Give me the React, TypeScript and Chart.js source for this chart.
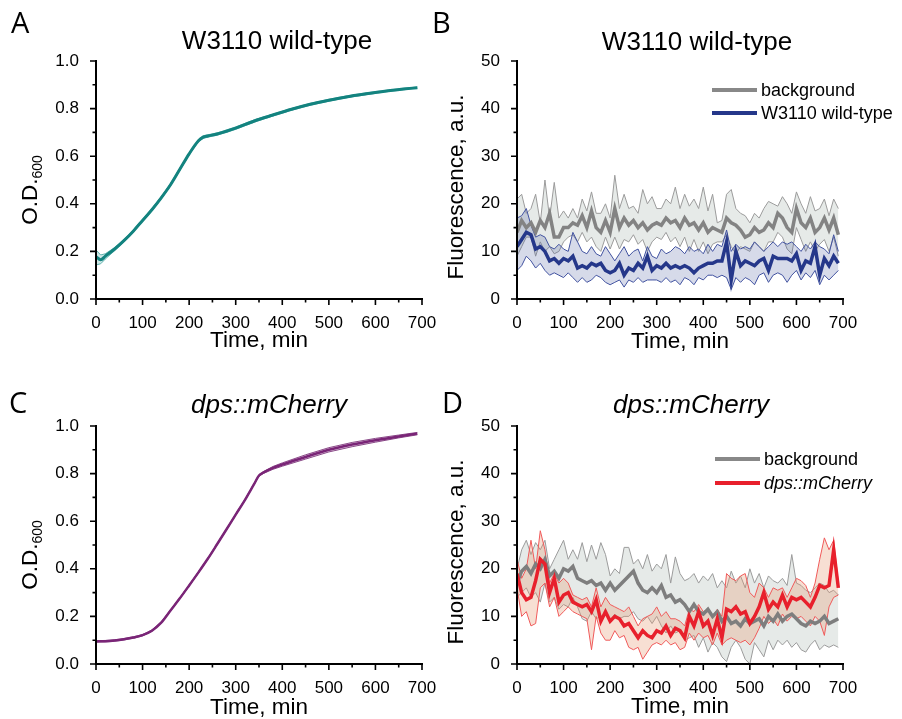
import React, { useEffect, useRef } from "react";
import { Chart, registerables } from "chart.js";

Chart.register(...registerables);

const W = 902;
const H = 719;
const SANS = '"Liberation Sans", Arial, Helvetica, sans-serif';
const LETTER_FONT = '"Open Sans", "Noto Sans", sans-serif';

// ---------- data ----------
const xTicks = [0, 100, 200, 300, 400, 500, 600, 700];
const odTicks = [0, 0.2, 0.4, 0.6, 0.8, 1.0];
const flTicks = [0, 10, 20, 30, 40, 50];

// Panel A (W3110 OD600)
const timesA = [0, 10, 20, 40, 60, 80, 100, 120, 140, 160, 180, 200, 220, 230, 240, 260, 280, 300, 340, 380, 420, 460, 500, 540, 580, 620, 660, 690];
const odA = [0.178, 0.165, 0.18, 0.21, 0.245, 0.285, 0.33, 0.375, 0.425, 0.48, 0.545, 0.61, 0.665, 0.68, 0.685, 0.693, 0.705, 0.718, 0.748, 0.773, 0.797, 0.818, 0.835, 0.85, 0.862, 0.873, 0.882, 0.888];
const odAHi = [0.206, 0.185, 0.19, 0.216, 0.25, 0.29, 0.335, 0.38, 0.43, 0.485, 0.55, 0.614, 0.669, 0.686, 0.69, 0.698, 0.71, 0.723, 0.753, 0.777, 0.801, 0.822, 0.839, 0.854, 0.866, 0.876, 0.885, 0.891];
const odALo = [0.143, 0.148, 0.168, 0.203, 0.24, 0.28, 0.325, 0.37, 0.42, 0.475, 0.54, 0.606, 0.661, 0.674, 0.68, 0.688, 0.7, 0.713, 0.743, 0.769, 0.793, 0.814, 0.831, 0.846, 0.858, 0.87, 0.879, 0.885];

// Panel C (dps::mCherry OD600)
const timesC = [0, 20, 40, 60, 80, 100, 120, 140, 160, 180, 200, 220, 240, 260, 280, 300, 320, 340, 350, 360, 380, 400, 450, 500, 550, 600, 650, 690];
const odC = [0.095, 0.096, 0.099, 0.104, 0.111, 0.121, 0.14, 0.174, 0.225, 0.276, 0.33, 0.385, 0.442, 0.503, 0.565, 0.628, 0.69, 0.758, 0.792, 0.805, 0.824, 0.838, 0.87, 0.9, 0.922, 0.94, 0.956, 0.968];
const odCHi = [0.098, 0.099, 0.102, 0.107, 0.114, 0.124, 0.143, 0.177, 0.228, 0.279, 0.333, 0.388, 0.445, 0.506, 0.568, 0.631, 0.693, 0.761, 0.795, 0.809, 0.83, 0.845, 0.879, 0.909, 0.931, 0.948, 0.962, 0.973];
const odCLo = [0.092, 0.093, 0.096, 0.101, 0.108, 0.118, 0.137, 0.171, 0.222, 0.273, 0.327, 0.382, 0.439, 0.5, 0.562, 0.625, 0.687, 0.755, 0.789, 0.801, 0.818, 0.831, 0.861, 0.891, 0.913, 0.932, 0.95, 0.963];

// Fluorescence time points (min)
const timesF = [
  0, 10, 20, 30, 40, 50, 60, 70, 80, 90,
  100, 110, 120, 130, 140, 150, 160, 170, 180, 190,
  200, 210, 220, 230, 240, 250, 260, 270, 280, 290,
  300, 310, 320, 330, 340, 350, 360, 370, 380, 390,
  400, 410, 420, 430, 440, 450, 460, 470, 480, 490,
  500, 510, 520, 530, 540, 550, 560, 570, 580, 590,
  600, 610, 620, 630, 640, 650, 660, 670, 680, 690,
];

// Panel B background
const bgB = [
  14, 16.5, 15, 16, 14, 16.5, 15, 18, 13, 13,
  15, 15, 16, 15.5, 17.5, 15, 18.5, 15, 14, 16.5,
  14, 19, 15, 17, 15.5, 16.5, 15, 16, 14.5, 15.5,
  16, 15.5, 17, 16, 16.5, 15, 17, 15.5, 16, 14.5,
  16, 14, 15, 14.5, 14, 17, 16, 15.5, 14.5, 13,
  13.5, 15, 14, 14.5, 16, 15, 18, 17, 15, 14,
  19, 16, 15, 17, 14, 15, 17, 14.5, 17, 13.5,
];
const bgBHi = [
  21, 22, 18, 19, 22, 16, 25, 17, 24.5, 17,
  18.5, 17, 19, 17, 21, 18.5, 22.5, 18, 18, 20,
  17, 26, 19, 22, 19, 19.5, 18, 23, 20, 21.5,
  19, 19, 21, 20, 23.5, 19, 22, 19.5, 21, 19,
  23.5, 18.5, 22, 16, 16.5, 22, 23, 19, 18, 17.5,
  16, 18, 17, 19, 20.5, 20, 19.5, 21.5, 20, 18,
  22.5, 20, 18, 21.5, 18.5, 19, 21, 17.5, 21, 19,
];
const bgBLo = [
  9, 11, 13, 13, 9, 12, 10, 11, 9.5, 10,
  12, 13, 13.5, 12, 14, 12, 13, 11, 10, 13,
  10.5, 13, 10.5, 12.5, 12, 13.5, 11.5, 12.5, 10, 12,
  13, 12.5, 14, 12, 13, 11, 13, 10, 12.5, 10,
  12, 9.5, 11.5, 12, 12, 13.5, 11, 9.5, 11, 10.5,
  10, 12, 11, 10, 12, 12, 14, 13, 10.5, 9.5,
  15, 12.5, 10, 12, 10, 11.5, 12.5, 10, 13, 9,
];
// Panel B W3110 wild-type
const wtB = [
  11, 12.5, 14, 13.5, 10.5, 11, 10, 8, 8.5, 7.5,
  8.5, 8, 9, 6.5, 7, 6.5, 7.5, 7, 7.5, 6,
  5.5, 6, 7.5, 5, 6.5, 6, 7.5, 6.5, 9, 6,
  7, 6.5, 7.5, 6.5, 7, 6.5, 7, 6.5, 5.5, 6.5,
  7, 7.5, 7.5, 8, 8, 12, 4, 10, 7, 8,
  7.5, 7, 8, 8.5, 6, 9, 8.5, 8.5, 8.5, 8,
  9.5, 6, 8, 7.5, 11, 5, 8.5, 7, 9, 7.5,
];
const wtBHi = [
  17, 17.5, 19, 15.5, 13, 13.5, 13, 11, 10.5, 11.5,
  10.5, 10, 14, 12, 10, 9.5, 11, 9.5, 9, 11,
  9.5, 8, 9.5, 11, 9, 10, 10.5, 8, 11, 9,
  8.5, 10.5, 9.5, 10, 11, 10.5, 9.5, 11, 10, 10.5,
  9.5, 11.5, 10, 11.5, 11, 14.5, 10, 11.5, 10.5, 11,
  10.5, 12, 11, 10, 11, 12, 11, 12, 11.5, 12,
  11, 10, 11.5, 10.5, 12, 11, 10.5, 9.5, 13.5, 10,
];
const wtBLo = [
  6, 7, 9, 8, 6.5, 7.5, 6, 5, 5.5, 5,
  4.5, 5.5, 4.5, 3.5, 4.5, 3.5, 4, 5, 4.5, 3.5,
  3, 3.5, 4, 2.5, 4, 3.5, 4.5, 3.5, 4, 4,
  4, 3.5, 4.5, 3.5, 4, 3, 4.5, 4, 3, 4.5,
  4, 5, 5, 4.5, 5, 4.5, 2, 4.5, 3.5, 4.5,
  4, 3, 5, 5.5, 3.5, 5, 5.5, 5, 3.5, 5,
  6, 4, 5.5, 4.5, 6, 3, 5, 4, 5, 6,
];

// Panel D background
const bgD = [
  17, 19.5, 20.5, 19, 21, 20, 22, 18.5, 19.5, 18,
  20, 19.5, 20.5, 18, 17.5, 17, 17.5, 16.5, 17, 15.5,
  17, 15.5, 16.5, 17.5, 18.5, 19.5, 17, 15.5, 15, 16,
  15, 16.5, 14, 14.5, 13, 13.5, 12.5, 11, 12.5, 11,
  10.5, 11.5, 10, 11, 9, 10, 8.5, 9, 8, 9.5,
  8.5, 9, 9.5, 8, 10, 9, 10.5, 9, 10, 10.5,
  9.5, 8.5, 8, 9, 8.5, 9, 10, 8.5, 9, 9.5,
];
const bgDHi = [
  20, 24, 26, 23, 25.5, 24, 26, 20, 22, 24,
  26, 22, 24, 22, 25.5, 21.5, 25, 22, 25.5, 23,
  18.5, 20, 19, 24.5, 24.5, 21, 22, 20, 23, 19.5,
  21, 20, 23, 17, 22.5, 19, 17.5, 18, 19, 17,
  18.5, 17.5, 19, 16, 17.5, 16, 19.5, 17, 18.5, 16,
  20, 17, 19, 16, 18.5, 17.5, 17, 18, 16.5, 23,
  17, 16.5, 15.5, 15, 16, 17, 16.5, 15, 15.5, 14.5,
];
const bgDLo = [
  14, 15, 16, 14, 15, 13, 17, 13, 14, 11.5,
  12.5, 12, 14, 12, 9.5, 9, 11, 9.5, 10, 10.5,
  9, 10.5, 9.5, 10, 10, 11, 9.5, 9, 10, 8.5,
  10, 8, 6.5, 8, 6.5, 7, 5, 5.5, 6, 3.5,
  5.5, 2.5, 4.5, 3.5, 1.5, 0.5, 3.5, 5, 3.5, 1,
  0, 4.5, 3, 1.5, 5, 3, 5, 4, 5, 3.5,
  4.5, 3, 2.5, 4, 5, 3, 4, 3.5, 4, 3.5,
];
// Panel D dps::mCherry
const mcD = [
  19, 15, 13.5, 14, 17.5, 22, 21, 15, 18, 13,
  14.5, 15, 13, 12.5, 12, 12.5, 11, 13.5, 9, 11,
  9, 10, 9.5, 8, 8.5, 7, 5.5, 7, 6, 5.5,
  7, 6.5, 8, 6, 7.5, 7, 5.5, 10, 8, 11,
  8, 9, 6, 9.5, 5.5, 11.5, 11, 12, 10.5, 11,
  8.5, 10, 12, 15, 11.5, 13, 12, 14.5, 12, 14,
  13.5, 14, 13, 12, 14, 16.5, 16, 16.5, 24, 16,
];
const mcDHi = [
  22, 18, 20, 26, 20, 28, 24, 17, 19, 17,
  18, 17, 14.5, 14, 13.5, 14, 12, 16, 12, 14,
  12.5, 12, 11.5, 11, 12, 10, 8, 9.5, 10, 10.5,
  12, 10, 11, 9.5, 9.5, 9, 8, 11.5, 11, 12.5,
  11, 11.5, 10, 11.5, 10, 19, 18, 17.5, 18.5, 19,
  15, 14, 17, 16, 14, 16, 15.5, 16, 14, 16,
  18, 17.5, 16.5, 14, 17, 22, 26.5, 24, 26, 17,
];
const mcDLo = [
  16, 10, 11, 8, 8.5, 16, 17, 12, 14, 10,
  11, 12, 11, 10.5, 10, 9.5, 3, 10, 6.5, 5,
  5, 7, 5.5, 6, 3.5, 3, 3.5, 1, 2.5, 4,
  4.5, 4, 5, 4, 4.5, 3, 3.5, 6.5, 5, 6.5,
  5.5, 6, 4, 6.5, 4, 5, 5.5, 5, 4.5, 5,
  4, 5.5, 7.5, 10, 8.5, 9.5, 8, 10.5, 9, 10,
  9.5, 10, 9, 8, 10, 9, 6, 12, 14, 14.5,
];

// ---------- helpers ----------
const pts = (xs: number[], ys: number[]) => xs.map((x, i) => ({ x, y: ys[i] }));

const bandPair = (xs: number[], hi: number[], lo: number[], edge: string, fill: string, order: number, edgeW = 1) => [
  { data: pts(xs, hi), borderColor: edge, borderWidth: edgeW, backgroundColor: fill, fill: "+1", pointRadius: 0, tension: 0, order },
  { data: pts(xs, lo), borderColor: edge, borderWidth: edgeW, backgroundColor: fill, fill: false, pointRadius: 0, tension: 0, order: order - 0.5 },
];

const meanLine = (xs: number[], ys: number[], color: string, width: number, order: number, smooth = false) => ({
  data: pts(xs, ys),
  borderColor: color,
  borderWidth: width,
  fill: false,
  pointRadius: 0,
  tension: 0,
  cubicInterpolationMode: smooth ? "monotone" : "default",
  order,
});

const decorPlugin = {
  id: "decor",
  afterDraw(chart: any, _a: any, o: any) {
    const ctx = chart.ctx as CanvasRenderingContext2D;
    const { left, right, top, bottom } = chart.chartArea;
    const xs = chart.scales.x;
    const ys = chart.scales.y;
    ctx.save();
    // axes
    ctx.strokeStyle = "#000";
    ctx.lineWidth = 2;
    ctx.beginPath();
    ctx.moveTo(left, top - 1);
    ctx.lineTo(left, bottom + 1);
    ctx.moveTo(left - 1, bottom);
    ctx.lineTo(right + 1, bottom);
    ctx.stroke();
    ctx.lineWidth = 1.6;
    ctx.beginPath();
    for (let i = 0; i < xTicks.length; i++) {
      const v = xTicks[i];
      const p = xs.getPixelForValue(v);
      ctx.moveTo(p, bottom);
      ctx.lineTo(p, bottom + 6);
      if (i < xTicks.length - 1) {
        const m = xs.getPixelForValue((v + xTicks[i + 1]) / 2);
        ctx.moveTo(m, bottom);
        ctx.lineTo(m, bottom + 3.5);
      }
    }
    const yt: number[] = o.yTicks;
    for (let i = 0; i < yt.length; i++) {
      const v = yt[i];
      const p = ys.getPixelForValue(v);
      ctx.moveTo(left, p);
      ctx.lineTo(left - 6, p);
      if (i < yt.length - 1) {
        const m = ys.getPixelForValue((v + yt[i + 1]) / 2);
        ctx.moveTo(left, m);
        ctx.lineTo(left - 3.5, m);
      }
    }
    ctx.stroke();

    ctx.fillStyle = "#000";
    // panel letter
    ctx.font = `29px ${LETTER_FONT}`;
    ctx.textAlign = "left";
    ctx.textBaseline = "alphabetic";
    ctx.fillText(o.letter, o.letterX, o.letterY);
    // title
    ctx.font = `${o.titleItalic ? "italic " : ""}26px ${SANS}`;
    ctx.textAlign = "center";
    ctx.fillText(o.title, (left + right) / 2 + o.titleDx, o.titleY);
    // x title
    ctx.font = `22.5px ${SANS}`;
    ctx.fillText("Time, min", (left + right) / 2, o.xTitleY);
    // y title (rotated)
    ctx.save();
    ctx.translate(o.yTitleX, o.yTitleCy);
    ctx.rotate(-Math.PI / 2);
    ctx.textAlign = "left";
    ctx.font = `22.5px ${SANS}`;
    const mainW = ctx.measureText(o.yTitle).width;
    let subW = 0;
    if (o.yTitleSub) {
      ctx.font = `14px ${SANS}`;
      subW = ctx.measureText(o.yTitleSub).width;
    }
    const total = mainW + subW;
    ctx.font = `22.5px ${SANS}`;
    ctx.fillText(o.yTitle, -total / 2, 0);
    if (o.yTitleSub) {
      ctx.font = `14px ${SANS}`;
      ctx.fillText(o.yTitleSub, -total / 2 + mainW, 5);
    }
    ctx.restore();
    // legend
    if (o.legend) {
      ctx.textAlign = "left";
      ctx.textBaseline = "middle";
      for (const item of o.legend) {
        ctx.strokeStyle = item.color;
        ctx.lineWidth = 4;
        ctx.beginPath();
        ctx.moveTo(item.x, item.y);
        ctx.lineTo(item.x + 45, item.y);
        ctx.stroke();
        ctx.font = `${item.italic ? "italic " : ""}18px ${SANS}`;
        ctx.fillStyle = "#000";
        ctx.fillText(item.label, item.x + 49, item.y + 1);
      }
    }
    ctx.restore();
  },
};

type Panel = {
  area: { left: number; top: number; right: number; bottom: number };
  yMax: number;
  yTickVals: number[];
  decimals: number;
  datasets: any[];
  decor: any;
};

const GRAY_FILL = "rgba(196,205,200,0.42)";
const GRAY_EDGE = "#9b9b9b";
const GRAY_MEAN = "#838383";

const panels: Panel[] = [
  {
    area: { left: 96, top: 61, right: 422, bottom: 299 },
    yMax: 1,
    yTickVals: odTicks,
    decimals: 1,
    datasets: [
      ...bandPair(timesA, odAHi, odALo, "#5fb1ae", "rgba(120,190,186,0.35)", 3),
      meanLine(timesA, odA, "#13837f", 3, 1, true),
    ],
    decor: { letter: "A", letterX: 11, letterY: 33, title: "W3110 wild-type", titleItalic: false, titleDx: 18, titleY: 49, xTitleY: 347, yTitle: "O.D.", yTitleSub: "600", yTitleX: 37, yTitleCy: 190, yTicks: odTicks },
  },
  {
    area: { left: 517, top: 61, right: 843, bottom: 299 },
    yMax: 50,
    yTickVals: flTicks,
    decimals: 0,
    datasets: [
      ...bandPair(timesF, bgBHi, bgBLo, GRAY_EDGE, GRAY_FILL, 6),
      ...bandPair(timesF, wtBHi, wtBLo, "#4152a0", "rgba(70,85,155,0.22)", 4),
      meanLine(timesF, bgB, GRAY_MEAN, 3.5, 2),
      meanLine(timesF, wtB, "#25378a", 3.5, 1),
    ],
    decor: {
      letter: "B", letterX: 432, letterY: 33, title: "W3110 wild-type", titleItalic: false, titleDx: 17, titleY: 50, xTitleY: 348, yTitle: "Fluorescence, a.u.", yTitleSub: "", yTitleX: 463, yTitleCy: 187, yTicks: flTicks,
      legend: [
        { label: "background", color: "#888888", x: 712, y: 90, italic: false },
        { label: "W3110 wild-type", color: "#25378a", x: 712, y: 113, italic: false },
      ],
    },
  },
  {
    area: { left: 96, top: 426, right: 422, bottom: 664 },
    yMax: 1,
    yTickVals: odTicks,
    decimals: 1,
    datasets: [
      ...bandPair(timesC, odCHi, odCLo, "#8a4a88", "rgba(140,70,135,0.25)", 3),
      meanLine(timesC, odC, "#7a2577", 2.5, 1, true),
    ],
    decor: { letter: "C", letterX: 9, letterY: 413, title: "dps::mCherry", titleItalic: true, titleDx: 10, titleY: 413, xTitleY: 714, yTitle: "O.D.", yTitleSub: "600", yTitleX: 37, yTitleCy: 555, yTicks: odTicks },
  },
  {
    area: { left: 517, top: 426, right: 843, bottom: 664 },
    yMax: 50,
    yTickVals: flTicks,
    decimals: 0,
    datasets: [
      ...bandPair(timesF, bgDHi, bgDLo, GRAY_EDGE, GRAY_FILL, 6),
      ...bandPair(timesF, mcDHi, mcDLo, "#f05a5a", "rgba(228,150,110,0.30)", 4),
      meanLine(timesF, bgD, "#7e7e7e", 3.5, 2),
      meanLine(timesF, mcD, "#e8202c", 3.5, 1),
    ],
    decor: {
      letter: "D", letterX: 442, letterY: 413, title: "dps::mCherry", titleItalic: true, titleDx: 11, titleY: 413, xTitleY: 713, yTitle: "Fluorescence, a.u.", yTitleSub: "", yTitleX: 463, yTitleCy: 552, yTicks: flTicks,
      legend: [
        { label: "background", color: "#888888", x: 715, y: 459, italic: false },
        { label: "dps::mCherry", color: "#e8202c", x: 715, y: 483, italic: true },
      ],
    },
  },
];

function PanelChart({ p }: { p: Panel }) {
  const ref = useRef<HTMLCanvasElement | null>(null);
  useEffect(() => {
    if (!ref.current) return;
    const a = p.area;
    const chart = new Chart(ref.current, {
      type: "line",
      data: { datasets: p.datasets },
      plugins: [decorPlugin],
      options: {
        animation: false,
        responsive: false,
        events: [],
        layout: { padding: { left: 0, top: a.top, right: W - a.right, bottom: 0 } },
        plugins: {
          legend: { display: false },
          tooltip: { enabled: false },
          title: { display: false },
          decor: p.decor,
        } as any,
        scales: {
          x: {
            type: "linear",
            min: 0,
            max: 700,
            grid: { display: false },
            border: { display: false },
            ticks: {
              stepSize: 100,
              autoSkip: false,
              maxRotation: 0,
              color: "#000",
              padding: 6,
              font: { family: SANS, size: 17 },
            },
            afterFit: (s: any) => {
              s.height = H - a.bottom;
              s.paddingLeft = 0;
              s.paddingRight = 0;
            },
          },
          y: {
            type: "linear",
            min: 0,
            max: p.yMax,
            grid: { display: false },
            border: { display: false },
            afterBuildTicks: (s: any) => {
              s.ticks = p.yTickVals.map((v) => ({ value: v }));
            },
            ticks: {
              autoSkip: false,
              color: "#000",
              padding: 9,
              font: { family: SANS, size: 17 },
              callback: (v: any) => Number(v).toFixed(p.decimals),
            },
            afterFit: (s: any) => {
              s.width = a.left;
              s.paddingTop = 0;
              s.paddingBottom = 0;
            },
          },
        },
      } as any,
    });
    return () => chart.destroy();
  }, [p]);
  return (
    <canvas
      ref={ref}
      width={W}
      height={H}
      style={{ position: "absolute", left: 0, top: 0, width: W, height: H }}
    />
  );
}

export default function App() {
  return (
    <div style={{ position: "absolute", left: 0, top: 0, width: W, height: H, background: "#fff", overflow: "hidden" }}>
      {panels.map((p, i) => (
        <PanelChart key={i} p={p} />
      ))}
    </div>
  );
}
